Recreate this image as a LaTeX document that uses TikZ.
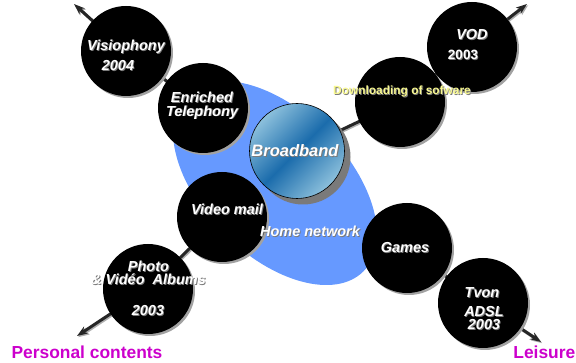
\documentclass[tikz,border=0pt]{standalone}
\usepackage{fontspec}
\setmainfont{Liberation Sans}
\usetikzlibrary{arrows.meta,shadows,shapes.geometric}
\definecolor{blobblue}{HTML}{6699FF}
\definecolor{bbdark}{HTML}{1B6CAC}
\definecolor{bblight}{HTML}{8CC0DC}
\definecolor{magentalabel}{HTML}{CC00CC}
\definecolor{paleyellow}{HTML}{F8F890}
\definecolor{shade}{HTML}{7A7A7A}
\pgfdeclarelayer{armlayer}
\pgfdeclarelayer{bloblayer}
\pgfsetlayers{armlayer,bloblayer,main}
% white lettering with a small grey drop shadow
\newcommand\shtxt[1]{\leavevmode\rlap{\kern0.9pt\raisebox{-0.9pt}{\textcolor{shade}{#1}}}#1}

\begin{document}
\begin{tikzpicture}[x=1pt,y=-1pt,
  disc/.style={circle,fill=black,minimum size=90pt,inner sep=0pt,
     general shadow={fill=shade!70,shadow xshift=2pt,shadow yshift=-2pt}},
  lbl/.style={text=white,font=\fontsize{14.5}{16}\selectfont\bfseries\itshape,inner sep=0pt,align=center},
  tight/.style={font=\fontsize{14.5}{13.5}\selectfont\bfseries\itshape},
  arm/.style={line width=3pt,draw=black!85},
  armshadow/.style={line width=3pt,draw=shade!60,transform canvas={shift={(1.2pt,-1.2pt)}}},
  tip/.style={-{Stealth[length=11pt,width=8pt]}},
  cat/.style={text=magentalabel,font=\fontsize{17.4}{20}\selectfont\bfseries,inner sep=0pt}
]
\useasboundingbox (0,0) rectangle (576,363);

% service discs
\node[disc] (visio) at (126,51) {};
\node[disc] (enr) at (203,108) {};
\node[disc] (dl) at (400,102) {};
\node[disc] (vod) at (472,47) {};
\node[disc] (vm) at (222,217) {};
\node[disc] (photo) at (148,289) {};
\node[disc] (games) at (407,248) {};
\node[disc] (tvon) at (483,303) {};

% central broadband disc
\node[circle,minimum size=95pt,inner sep=0pt,draw=black,line width=0.6pt,
  top color=bblight,bottom color=bblight,middle color=bbdark,shading angle=45,
  general shadow={fill=shade,shadow xshift=6pt,shadow yshift=-6pt}] (bb) at (297,151) {};

% arrow ends
\coordinate (tl) at (74,4);
\coordinate (tr) at (527,4);
\coordinate (bl) at (77,336);
\coordinate (br) at (541,342);

% home network area
\begin{pgfonlayer}{bloblayer}
\node[ellipse,fill=blobblue,minimum width=250pt,minimum height=144pt,rotate=-45,inner sep=0pt] (home) at (275,183) {};
\end{pgfonlayer}

% the four arms
\begin{pgfonlayer}{armlayer}
\foreach \a/\b in {bb/enr,enr/visio,bb/dl,dl/vod,bb/vm,vm/photo,bb/games,games/tvon}{
  \draw[armshadow] (\a.center) -- (\b.center);
  \draw[arm] (\a.center) -- (\b.center);
}
\foreach \a/\b in {visio/tl,vod/tr,photo/bl,tvon/br}{
  \draw[armshadow,tip] (\a.center) -- (\b);
  \draw[arm,tip] (\a.center) -- (\b);
}
\end{pgfonlayer}

% labels
\node[lbl] (tVisio) at (126,47) {\shtxt{Visiophony}};
\node[lbl] (tVisioY) at (118,66) {\shtxt{2004}};
\node[lbl,tight] (tEnr) at (202,106) {\shtxt{Enriched}\\\shtxt{Telephony}};
\node[lbl,font=\fontsize{16.5}{18}\selectfont\bfseries\itshape] (tBB) at (295,151) {\shtxt{Broadband}};
\node[lbl,text=paleyellow,font=\fontsize{11.9}{13}\selectfont\bfseries] (tDl) at (402,92) {\shtxt{Downloading of sofware}};
\node[lbl] (tVod) at (472,35) {\shtxt{VOD}};
\node[lbl,font=\fontsize{13.5}{15}\selectfont\bfseries] (tVodY) at (463,55) {\shtxt{2003}};
\node[lbl] (tVm) at (227,210) {\shtxt{Video mail}};
\node[lbl] (tHome) at (310,232) {\shtxt{Home network}};
\node[lbl,font=\fontsize{14.5}{13}\selectfont\bfseries\itshape] (tPh) at (148.5,273.5) {\shtxt{Photo}\\\shtxt{\& Vidéo\ \ Albums}};
\node[lbl] (tPhY) at (148,311) {\shtxt{2003}};
\node[lbl] (tGames) at (405,248) {\shtxt{Games}};
\node[lbl] (tTv1) at (482,293) {\shtxt{Tvon}};
\node[lbl,font=\fontsize{14.5}{13}\selectfont\bfseries\itshape] (tTv2) at (484,318.5) {\shtxt{ADSL}\\\shtxt{2003}};

% category captions
\node[cat] (personal) at (87,352) {Personal contents};
\node[cat,anchor=east] (leisure) at (575.5,352) {Leisure};
\end{tikzpicture}
\end{document}
